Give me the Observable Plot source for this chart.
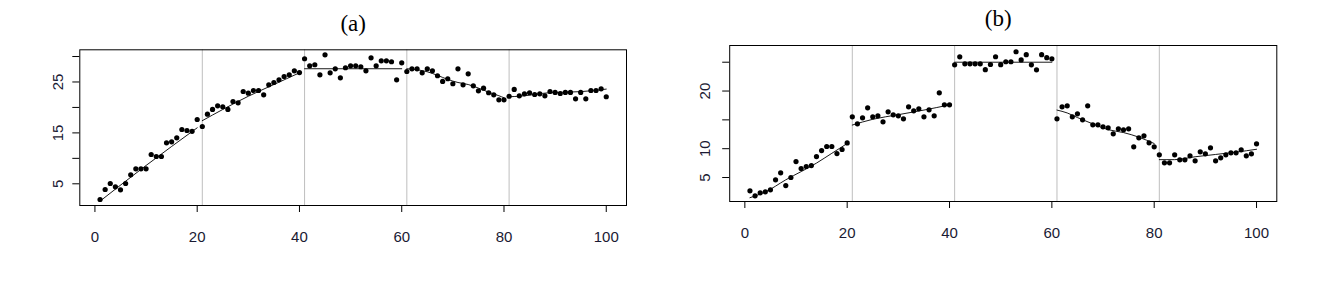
<!DOCTYPE html>
<html><head><meta charset="utf-8">
<script src="https://cdn.jsdelivr.net/npm/d3@7"></script>
<script src="https://cdn.jsdelivr.net/npm/@observablehq/plot@0.6"></script>
<style>
body{margin:0;background:#fff;}
#wrap{position:relative;width:1322px;height:302px;overflow:hidden;background:#fff;}
.panel{position:absolute;top:0;}
</style></head><body><div id="wrap"></div>
<script>
// ---------- data ----------
const xTicks = [0, 20, 40, 60, 80, 100];
const breaks = [21, 41, 61, 81];

const titleA = "(a)";
const titleB = "(b)";

const seriesA = [
  1.92, 3.88, 5.06, 4.41, 3.82, 5.06, 6.77, 7.95, 7.95, 7.95,
  10.76, 10.36, 10.36, 13.05, 13.25, 14.04, 15.67, 15.47, 15.3, 17.63,
  16.26, 18.67, 19.6, 20.32, 20.13, 19.6, 21.17, 20.9, 23.13, 22.8,
  23.33, 23.33, 22.48, 24.45, 24.9, 25.43, 26.08, 26.41, 27.2, 26.85,
  29.56, 28.18, 28.38, 26.41, 30.34, 26.8, 27.59, 25.82, 27.79, 28.18,
  28.18, 27.99, 27.2, 29.75, 28.18, 29.16, 29.16, 28.97, 25.43, 28.77,
  27.06, 27.59, 27.59, 26.8, 27.59, 27.2, 26.22, 25.1, 25.63, 24.65,
  27.59, 24.45, 26.61, 24.25, 23.27, 23.78, 22.88, 22.48, 21.5, 21.5,
  22.2, 23.53, 22.29, 22.68, 22.88, 22.54, 22.68, 22.29, 23.13, 22.94,
  22.74, 22.94, 22.94, 21.7, 22.94, 21.7, 23.33, 23.33, 23.66, 22.1
];
const seriesB = [
  2.69, 1.82, 2.34, 2.52, 2.87, 4.6, 5.81, 3.61, 5.0, 7.77,
  6.56, 6.91, 7.08, 8.64, 9.68, 10.38, 10.38, 9.16, 9.86, 11.0,
  15.53, 14.31, 15.35, 17.09, 15.53, 15.7, 14.66, 16.39, 15.87, 15.7,
  15.18, 17.26, 16.57, 16.91, 15.53, 16.74, 15.7, 19.69, 17.61, 17.61,
  24.55, 25.93, 24.72, 24.72, 24.72, 24.72, 23.7, 24.6, 25.95, 24.58,
  25.08, 25.08, 26.82, 25.4, 26.3, 24.55, 23.68, 26.3, 25.78, 25.58,
  15.18, 17.26, 17.43, 15.53, 16.05, 15.0, 17.43, 14.14, 14.14, 13.79,
  13.62, 12.58, 13.45, 13.27, 13.45, 10.32, 11.88, 12.23, 11.02, 10.32,
  8.94, 7.55, 7.55, 8.94, 8.07, 8.07, 8.76, 7.9, 9.46, 9.11,
  10.15, 7.9, 8.42, 8.94, 9.28, 9.28, 9.8, 8.76, 9.11, 10.84
];

// smoothed fit lines (knots), one line per 20-point segment
const fitAx = [1, 10, 20, 21, 25, 30, 35, 40, 41, 60, 61, 63, 65, 67, 69, 71, 73, 75, 77, 79, 80, 81, 83, 89, 95, 100];
const fitAy = [1.6, 8.6, 16.0, 17.4, 19.6, 22.2, 24.5, 26.8, 27.6, 27.6, 27.6, 27.4, 27.0, 26.3, 25.5, 24.9, 24.5, 23.8, 23.0, 22.3, 21.9, 22.1, 22.2, 22.9, 23.1, 23.6];
const fitBx = [1, 4, 8, 14, 17, 20, 21, 25, 30, 35, 40, 41, 60, 61, 63, 65, 68, 71, 74, 77, 80, 81, 84, 88, 92, 96, 100];
const fitBy = [1.5, 2.5, 4.6, 7.5, 9.2, 10.9, 14.1, 15.1, 15.9, 16.7, 17.6, 25.0, 25.0, 16.7, 16.2, 15.4, 14.3, 13.3, 12.8, 12.0, 10.9, 8.1, 8.1, 8.6, 9.0, 9.4, 9.9];

const yTicksA = [5, 10, 15, 20, 25, 30];
const yLabelsA = [5, 15, 25];
const yTicksB = [5, 10, 15, 20, 25];
const yLabelsB = [5, 10, 20];

// ---------- drawing ----------
const INK = "#1a1a33";
function panel({title, series, fitX, fitY, yDomain, yTicks, yLabels, left, width, margins, titleDy, titleDx, yLabelDx}) {
  const pts = series.map((v, i) => ({x: i + 1, y: v}));
  const fit = fitX.map((x, i) => ({x, y: fitY[i], seg: Math.floor((x - 1) / 20)}));
  const chart = Plot.plot({
    width, height: 302,
    marginLeft: margins[0], marginRight: margins[1], marginTop: margins[2], marginBottom: margins[3],
    style: {fontFamily: "'Liberation Sans', Arial, sans-serif", fontSize: "15px", color: INK, background: "white", overflow: "visible"},
    x: {domain: [-2.96, 103.96], label: null},
    y: {domain: yDomain, label: null},
    marks: [
      Plot.ruleX(breaks, {stroke: "#bebebe", strokeWidth: 1}),
      Plot.line(fit, {x: "x", y: "y", z: "seg", stroke: "black", strokeWidth: 0.9, curve: "monotone-x"}),
      Plot.dot(pts, {x: "x", y: "y", r: 2.6, fill: "black", stroke: null}),
      Plot.frame({stroke: "black", strokeWidth: 1}),
      Plot.axisX({ticks: xTicks, tickSize: 7, tickPadding: 19, stroke: "black", fill: INK, fontSize: 15, label: null}),
      Plot.axisY({ticks: yTicks, tickSize: 7, tickFormat: () => "", stroke: "black", label: null}),
      Plot.text(yLabels, {y: d => d, text: d => String(d), frameAnchor: "left", dx: yLabelDx, rotate: -90, textAnchor: "middle", fill: INK, fontSize: 15}),
      Plot.text([title], {frameAnchor: "top", lineAnchor: "middle", dy: titleDy, dx: titleDx, fontFamily: "'Liberation Serif', 'Times New Roman', serif", fontSize: 23, fill: "black"})
    ]
  });
  chart.classList.add("panel");
  chart.style.left = left + "px";
  document.getElementById("wrap").appendChild(chart);
}

panel({title: titleA, series: seriesA, fitX: fitAx, fitY: fitAy, yDomain: [0.74, 31.32],
  yTicks: yTicksA, yLabels: yLabelsA, left: 0, width: 661,
  margins: [79.3, 35, 49.3, 97], titleDy: -26, titleDx: 0, yLabelDx: -22});
panel({title: titleB, series: seriesB, fitX: fitBx, fitY: fitBy, yDomain: [0.84, 27.9],
  yTicks: yTicksB, yLabels: yLabelsB, left: 661, width: 661,
  margins: [68.2, 45.7, 45, 101], titleDy: -27, titleDx: -5, yLabelDx: -25});
</script>
</body></html>
